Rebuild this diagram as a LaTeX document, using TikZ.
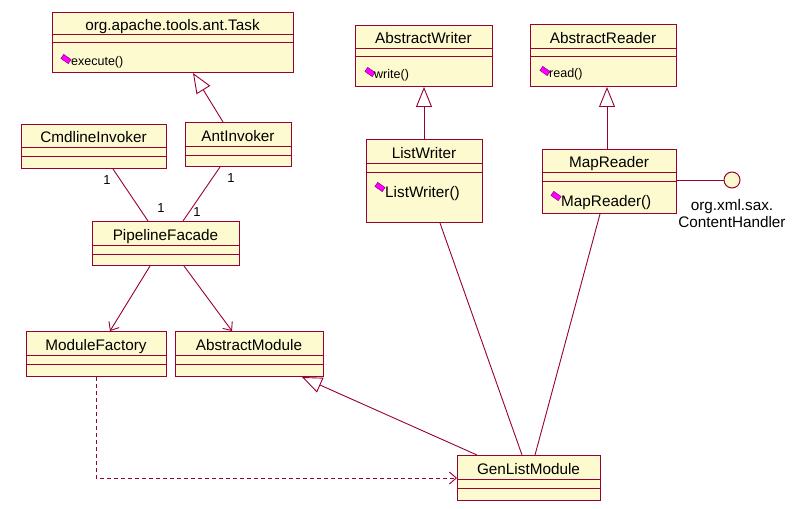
\documentclass[tikz,border=0pt]{standalone}
\usepackage{fontspec}
\setmainfont{Liberation Sans}
\usetikzlibrary{arrows.meta,calc}
\definecolor{ln}{RGB}{153,0,51}
\definecolor{fl}{RGB}{253,250,207}
\definecolor{mg}{RGB}{255,0,255}
\newcommand\umlbox[8]{%
  \node[box, minimum width={#4-#2}, minimum height={#5-#3}] (#1) at (#2,#3) {};
  \draw[sepl] (#2,#6) -- (#4,#6);
  \draw[sepl] (#2,#7) -- (#4,#7);
  \node[cname] (#1-name) at ({(#2+#4)/2},{(#3+#6)/2+7}) {#8};}
\begin{document}
\begin{tikzpicture}[x=1pt,y=-1pt,
  box/.style={draw=ln, fill=fl, line width=1pt, inner sep=0pt, anchor=north west},
  sepl/.style={draw=ln, line width=1pt},
  cname/.style={font=\fontsize{15.3}{18}\selectfont, inner sep=0pt, anchor=base},
  meth/.style={font=\fontsize{12.5}{14}\selectfont, inner sep=0pt, anchor=base west},
  methb/.style={font=\fontsize{15.3}{18}\selectfont, inner sep=0pt, anchor=base west},
  mult/.style={font=\fontsize{13}{15}\selectfont, inner sep=0pt},
  icon/.style={draw=black!55!mg, fill=mg, minimum width=9pt, minimum height=5pt, inner sep=0pt, rotate=-35},
  conn/.style={draw=ln, line width=0.9pt},
  inh/.style={conn, -{Triangle[open,length=20pt,width=16pt]}},
  nav/.style={conn, -{Straight Barb[length=7pt,width=12pt]}},
  dep/.style={conn, dash pattern=on 4pt off 3pt, -{Straight Barb[length=7pt,width=12pt]}},
]
\useasboundingbox[fill=white] (0,0) rectangle (794,508);

\umlbox{task}{52}{12}{293}{72}{35}{43}{org.apache.tools.ant.Task}
\node[icon] (task-ic) at (66,59) {};
\node[meth] (task-m) at (71,66) {execute()};

\umlbox{cmd}{21}{124}{166}{168}{147}{156}{CmdlineInvoker}
\umlbox{ant}{185}{122}{291}{166}{146}{155}{AntInvoker}

\umlbox{aw}{355}{25}{492}{86}{49}{57}{AbstractWriter}
\node[icon] (aw-ic) at (370,72) {};
\node[meth] (aw-m) at (374,79) {write()};

\umlbox{ar}{530}{24}{676}{86}{49}{57}{AbstractReader}
\node[icon] (ar-ic) at (545,71) {};
\node[meth] (ar-m) at (549,78) {read()};

\umlbox{lw}{366}{139}{482}{222}{163}{172}{ListWriter}
\node[icon] (lw-ic) at (380,187) {};
\node[methb] (lw-m) at (385,197) {ListWriter()};

\umlbox{mr}{542}{149}{676}{213}{172}{181}{MapReader}
\node[icon] (mr-ic) at (556,196) {};
\node[methb] (mr-m) at (561,206) {MapReader()};

\node[circle, draw=ln, fill=fl, line width=1pt, minimum size=16pt, inner sep=0pt] (ch) at (732,180) {};
\node[font=\fontsize{15.3}{17}\selectfont, inner sep=0pt, align=center, anchor=north] (ch-lbl) at (732,199) {org.xml.sax.\\ContentHandler};

\umlbox{pf}{92}{221}{239}{265}{245}{254}{PipelineFacade}
\umlbox{mf}{26}{331}{166}{376}{355}{364}{ModuleFactory}
\umlbox{am}{175}{331}{323}{376}{355}{364}{AbstractModule}
\umlbox{gl}{457}{455}{600}{500}{479}{488}{GenListModule}

% associations
\draw[conn] ([xshift=92pt]cmd.south west) -- ([xshift=56pt]pf.north west);
\draw[conn] ([xshift=35pt]ant.south west) -- ([xshift=91pt]pf.north west);
\node[mult] (m1) at (107,180) {1};
\node[mult] (m2) at (161,208) {1};
\node[mult] (m3) at (231,178) {1};
\node[mult] (m4) at (197,212) {1};

% inheritance
\draw[inh] ([xshift=38pt]ant.north west) -- ([xshift=141pt]task.south west);
\draw[inh] ([xshift=58pt]lw.north west) -- ([xshift=69pt]aw.south west);
\draw[inh] ([xshift=65pt]mr.north west) -- ([xshift=77pt]ar.south west);
\draw[inh] ([xshift=20pt]gl.north west) -- ([xshift=127pt]am.south west);

% navigable
\draw[nav] ([xshift=58pt]pf.south west) -- ([xshift=84pt]mf.north west);
\draw[nav] ([xshift=92pt]pf.south west) -- ([xshift=57pt]am.north west);

% dependency
\draw[dep] ([xshift=70pt]mf.south west) |- (gl.west);

% plain links
\draw[conn] ([xshift=74pt]lw.south west) -- ([xshift=65pt]gl.north west);
\draw[conn] ([xshift=58pt]mr.south west) -- ([xshift=78pt]gl.north west);
\draw[conn] (mr.east |- ch.west) -- (ch.west);
\end{tikzpicture}
\end{document}
